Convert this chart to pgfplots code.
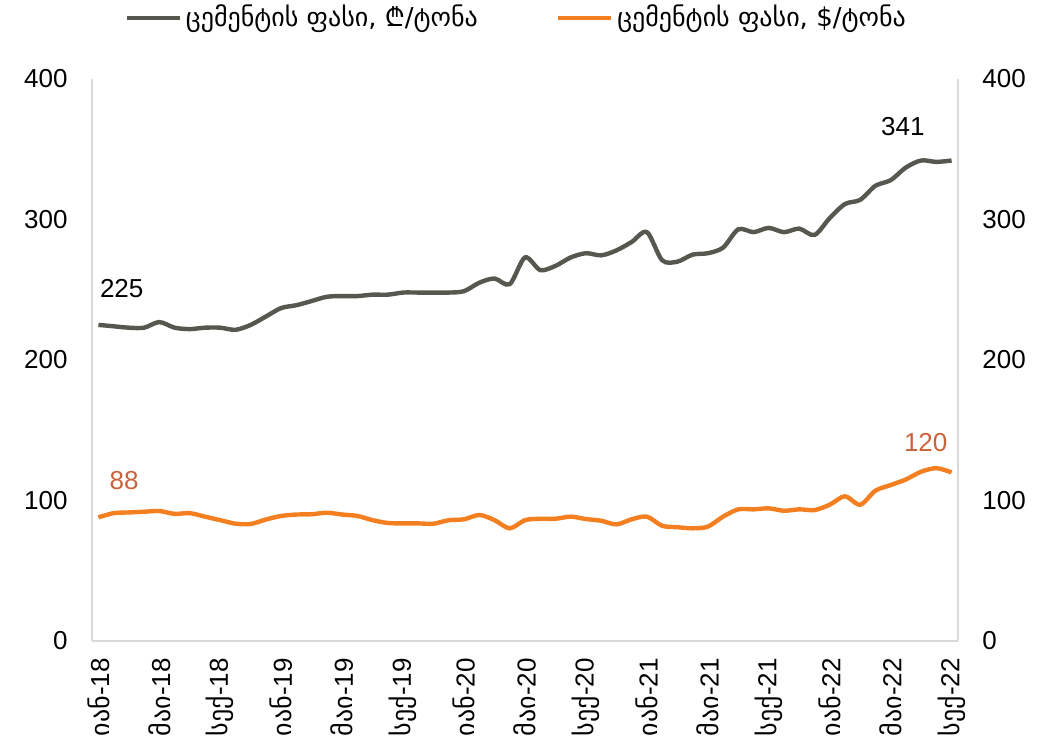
\documentclass[border=0pt]{standalone}
\usepackage{fontspec}
\setmainfont{Liberation Sans}
\newfontfamily\geo{DejaVu Sans}
\newfontfamily\lari{Noto Sans}
\usepackage{pgfplots}
\pgfplotsset{compat=1.18}
\definecolor{gel}{HTML}{56574F}
\definecolor{usd}{HTML}{F47F20}
\definecolor{usdlab}{HTML}{C8643B}
\definecolor{axgray}{HTML}{D9D9D9}

% monthly prices, Jan-18 .. Sep-22
\pgfplotstableread{
m gel usd
0 225 88
1 224 91
2 223 91.5
3 223 92
4 227 92.5
5 223 90.5
6 222 91
7 223 88.5
8 223 86
9 221.5 83.5
10 225 83.3
11 231 86.5
12 237 89
13 239 90
14 242 90.2
15 245 91.3
16 245.5 90
17 245.5 89
18 246.5 86
19 246.5 84
20 248 83.7
21 248 83.7
22 248 83.5
23 248 86
24 249 86.6
25 255 89.7
26 258 86
27 254 80.2
28 273 86
29 264 87
30 267 87
31 273 88.5
32 276 86.8
33 274.5 85.6
34 278 83
35 284 86.6
36 291 88.5
37 271 82
38 270 81
39 275 80.2
40 276 81.4
41 280 88.5
42 293 93.7
43 291 93.7
44 294 94.4
45 291 92.7
46 293.5 93.7
47 289 93.2
48 301 97
49 311 103
50 314 97
51 324 107
52 328 111
53 337 115
54 342 120.5
55 341 123
56 342 120
}\prices

\begin{document}
\fontsize{13bp}{15bp}\selectfont
\begin{tikzpicture}
\path[use as bounding box] (-46bp,-48bp) rectangle (482bp,320.5bp);
\begin{axis}[
  scale only axis,
  width=433bp, height=281bp,
  xmin=-0.42, xmax=56.42,
  ymin=0, ymax=400,
  ytick={0,100,...,400},
  xtick={0,4,...,56},
  xticklabels={{\geo იან}-18,{\geo მაი}-18,{\geo სექ}-18,{\geo იან}-19,{\geo მაი}-19,{\geo სექ}-19,{\geo იან}-20,{\geo მაი}-20,{\geo სექ}-20,{\geo იან}-21,{\geo მაი}-21,{\geo სექ}-21,{\geo იან}-22,{\geo მაი}-22,{\geo სექ}-22},
  axis x line*=bottom,
  axis y line*=left,
  axis line style={draw=axgray, line width=0.8bp, -},
  major tick length=0pt,
  /pgf/number format/assume math mode=true,
  yticklabel style={inner sep=0pt, xshift=-12bp},
  xticklabel style={inner sep=0pt, rotate=90, anchor=east, xshift=-8.5bp},
  legend style={at={(0.491,1.1085)}, anchor=center, draw=none, fill=none,
    legend columns=2, font=\fontsize{13bp}{15bp}\selectfont\geo,
    /tikz/every even column/.append style={column sep=37bp}},
  legend image code/.code={\draw[#1] (0bp,0bp) -- (26.5bp,0bp);},
  clip=false,
]
\addplot[gel, line width=2.2bp, smooth, tension=0.5] table[x=m, y=gel] {\prices};
\addlegendentry{ცემენტის ფასი, {\lari ₾}/ტონა}
\addplot[usd, line width=2.2bp, smooth, tension=0.5] table[x=m, y=usd] {\prices};
\addlegendentry{ცემენტის ფასი, \$/ტონა}
\node at (axis cs:1.53,250.5) {225};
\node at (axis cs:52.8,366.5) {341};
\node[text=usdlab] at (axis cs:1.69,113.9) {88};
\node[text=usdlab] at (axis cs:54.3,141.6) {120};
\end{axis}
\begin{axis}[
  scale only axis,
  width=433bp, height=281bp,
  xmin=-0.42, xmax=56.42,
  ymin=0, ymax=400,
  ytick={0,100,...,400},
  axis x line=none,
  axis y line*=right,
  axis line style={draw=axgray, line width=0.8bp, -},
  major tick length=0pt,
  /pgf/number format/assume math mode=true,
  yticklabel style={inner sep=0pt, xshift=12bp},
]
\addplot[draw=none] coordinates {(0,0)};
\end{axis}
\end{tikzpicture}
\end{document}
